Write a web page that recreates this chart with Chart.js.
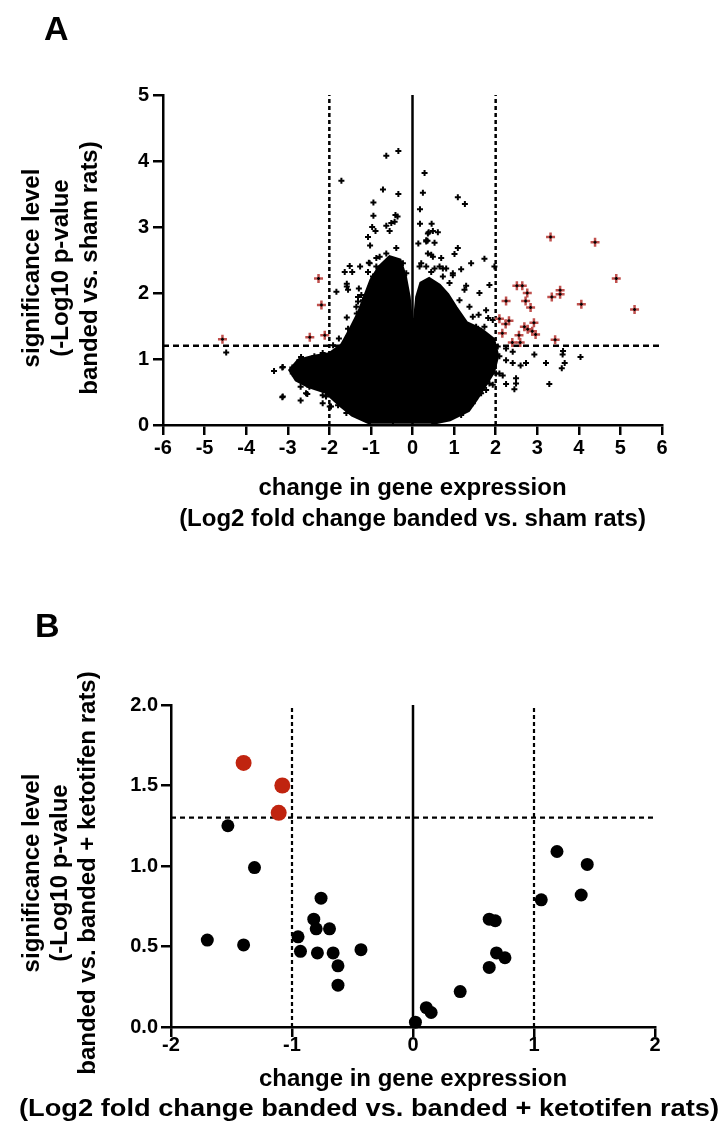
<!DOCTYPE html>
<html>
<head>
<meta charset="utf-8">
<script src="https://cdn.jsdelivr.net/npm/chart.js@4.4.1/dist/chart.umd.min.js"></script>
<style>
  body { margin: 0; background: #fff; }
  #wrap { position: relative; width: 723px; height: 1128px; }
  canvas { position: absolute; left: 0; }
</style>
</head>
<body>
<div id="wrap">
  <canvas id="panelA" width="723" height="560" style="top:0"></canvas>
  <canvas id="panelB" width="723" height="568" style="top:560px"></canvas>
</div>
<script>
// ---- panel A: banded vs. sham ----
const foldTicksA = [-6, -5, -4, -3, -2, -1, 0, 1, 2, 3, 4, 5, 6];
const sigTicksA = [0, 1, 2, 3, 4, 5];
const foldCutA = 2;
const sigCutA = 1.2;

// outline of the saturated centre of the cloud (too many genes to tell apart)
const coreFoldA = [-1.00, -1.45, -1.75, -2.10, -2.50, -2.80, -2.95, -2.75, -2.40, -2.00, -1.70, -1.50, -1.30, -1.15, -1.00,
  -0.80, -0.55, -0.30, -0.17, -0.08, -0.03, 0.05, 0.10, 0.20, 0.40, 0.65, 0.85, 1.05, 1.30, 1.65, 1.95, 2.05, 1.95, 1.75,
  1.55, 1.35, 0.90, 0.45];
const coreSigA = [0.02, 0.15, 0.30, 0.50, 0.58, 0.68, 0.83, 0.98, 1.04, 1.08, 1.22, 1.45, 1.70, 1.95, 2.20,
  2.40, 2.55, 2.50, 2.25, 1.94, 1.60, 1.60, 1.94, 2.15, 2.22, 2.12, 1.98, 1.78, 1.55, 1.45, 1.30, 1.05, 0.80, 0.60,
  0.40, 0.22, 0.08, 0.02];

// scattered genes above / beside the cloud
const nsFoldA = [-1.71, -0.63, -0.34, -0.71, -0.34, -0.94, -0.94, -0.36, -0.43, -0.63,
  -0.55, -0.97, -0.89, -1.07, -1.02, -0.87, -1.05, -1.26, -1.51, -1.63,
  -1.45, -1.58, -1.58, -1.83, -1.29, -1.31, -1.19, -1.35, -1.58, -1.55,
  -1.77, -1.91, -4.48, -3.33, -3.13, -3.13, -2.69, -2.53, -2.69, -2.89,
  -2.68, -0.51, -0.41, 0.29, 0.25, 1.09, 1.26, 0.18, 0.18, 0.46,
  0.49, 0.39, 0.61, 0.36, 0.53, 0.14, 1.09, 1.01, 1.73, 1.41,
  1.17, 1.29, 1.61, 1.85, 1.97, 1.37, 1.59, 1.82, 2.93, 2.41,
  2.60, 2.73, 3.21, 3.61, 3.66, 3.59, 4.04, 3.62, 3.29, 2.25,
  2.45, 2.49, 2.17];
const nsSigA = [3.70, 4.08, 4.15, 3.57, 3.50, 3.37, 3.17, 3.16, 3.08, 3.02,
  2.94, 3.00, 2.94, 2.85, 2.72, 2.53, 2.46, 2.40, 2.41, 2.32,
  2.32, 2.14, 2.10, 2.02, 2.07, 1.94, 1.89, 1.79, 1.63, 1.46,
  1.31, 1.21, 1.10, 0.82, 0.87, 0.42, 0.37, 0.47, 0.58, 0.87,
  1.03, 3.06, 3.18, 3.82, 3.52, 3.45, 3.35, 3.27, 3.05, 3.05,
  2.94, 2.92, 2.92, 2.79, 2.76, 2.75, 2.68, 2.59, 2.52, 2.45,
  2.36, 2.11, 2.00, 2.12, 2.40, 1.79, 1.67, 1.62, 1.07, 0.94,
  0.90, 0.94, 0.94, 1.07, 0.94, 0.86, 1.03, 1.12, 0.62, 0.62,
  0.54, 0.71, 0.75];

// genes along the edge of the cloud
const haloFoldA = [-1.07, -1.55, -1.23, -1.31, -1.10, -1.19, -1.34, -1.27, -1.47, -1.55,
  -1.75, -2.16, -2.32, -3.12, -2.56, -3.12, -2.16, -2.16, -1.96, -1.59,
  -1.63, -1.79, -1.55, -1.39, -1.19, -0.91, -0.79, -0.63, -0.39, -0.55,
  -0.87, -0.95, -0.75, -0.23, -0.15, -0.31, -1.03, -0.47, 0.33, 0.37,
  0.49, 0.21, 0.65, 0.81, 0.45, 0.97, 0.73, 0.89, 1.25, 1.13,
  1.05, 1.45, 1.77, 1.53, 1.73, 1.93, 1.37, 1.61, 2.05, 2.09,
  2.49, 2.01, 1.85, 1.61, 1.77, 1.45, 1.29, 1.01, 1.17, 0.81,
  1.41, 1.21, -2.72, -2.88, -2.64, -2.48, -2.08, -1.79, -1.99, -1.75,
  -2.32, -2.12, -2.36, -1.83, -1.96, -1.71, -1.43, -2.56, 0.37, 0.33,
  0.45, 0.69, 0.17, 0.33, 0.53, 0.73, 0.97, 2.25, 2.25, 2.09,
  1.93, 1.65, 2.41, 1.65, -0.47, -0.79, 0.49, 0.65];
const haloSigA = [2.32, 2.05, 1.97, 1.87, 1.89, 1.77, 1.69, 1.54, 1.44, 1.34,
  1.14, 1.09, 1.01, 0.88, 0.48, 0.43, 0.45, 0.33, 0.28, 0.18,
  0.38, 0.58, 0.48, 0.33, 0.15, 0.08, 2.55, 2.60, 2.68, 2.47,
  2.40, 2.25, 2.27, 2.45, 2.30, 2.30, 2.45, 2.40, 2.80, 2.60,
  2.55, 2.45, 2.40, 2.37, 2.32, 2.27, 2.25, 2.15, 2.05, 1.89,
  1.69, 1.64, 1.74, 1.49, 1.49, 1.59, 1.34, 1.24, 1.19, 1.04,
  0.63, 0.78, 0.63, 0.48, 0.53, 0.33, 0.28, 0.20, 0.15, 0.13,
  0.73, 0.78, 0.98, 0.78, 0.68, 0.58, 0.43, 0.30, 0.28, 0.48,
  0.83, 0.98, 1.04, 1.09, 0.78, 0.83, 1.09, 0.76, 2.90, 2.78,
  2.58, 2.53, 2.40, 2.40, 2.37, 2.37, 2.30, 1.16, 0.98, 0.78,
  0.61, 0.48, 1.11, 0.83, 0.05, 0.13, 0.08, 0.13];

// genes past both cut-offs (red)
const hitFoldA = [-4.57, -2.26, -2.19, -2.47, -2.11, 3.32, 4.39, 4.90, 5.34, 4.06, 3.35, 3.55, 3.55, 2.51, 2.64, 2.76,
  2.72, 2.84, 2.25, 2.09, 2.24, 2.32, 2.16, 2.69, 2.92, 2.77, 2.88, 2.96, 2.56, 2.40, 2.59, 3.43];
const hitSigA = [1.30, 2.22, 1.82, 1.33, 1.36, 2.85, 2.77, 2.22, 1.75, 1.83, 1.94, 2.04, 1.98, 2.11, 2.11, 2.00,
  1.88, 1.78, 1.88, 1.61, 1.53, 1.58, 1.39, 1.49, 1.55, 1.45, 1.42, 1.37, 1.36, 1.25, 1.25, 1.29];

// ---- panel B: banded vs. banded + ketotifen ----
const foldTicksB = [-2, -1, 0, 1, 2];
const sigTicksB = [0, 0.5, 1, 1.5, 2];
const foldCutB = 1;
const sigCutB = 1.3;

const nsFoldB = [-1.53, -1.31, -1.70, -1.40, -0.95, -0.93, -0.76, -0.82, -0.80, -0.69, -0.79, -0.66, -0.62, -0.62, -0.43,
  0.02, 0.11, 0.15, 0.39, 0.63, 0.68, 0.69, 0.76, 0.63, 1.06, 1.19, 1.44, 1.39];
const nsSigB = [1.25, 0.99, 0.54, 0.51, 0.56, 0.47, 0.80, 0.67, 0.61, 0.61, 0.46, 0.46, 0.38, 0.26, 0.48,
  0.03, 0.12, 0.09, 0.22, 0.67, 0.66, 0.46, 0.43, 0.37, 0.79, 1.09, 1.01, 0.82];
const hitFoldB = [-1.40, -1.08, -1.11];
const hitSigB = [1.64, 1.50, 1.33];

const FONT = '"Liberation Sans", Arial, sans-serif';
const RED = '#c0504d';
const pts = (xs, ys) => xs.map((x, i) => ({ x: x, y: ys[i] }));

// axis titles and panel letter
const axisText = {
  id: 'axisText',
  afterDraw(chart, args, o) {
    const { ctx, chartArea: { left, right, top, bottom } } = chart;
    ctx.save();
    ctx.fillStyle = '#000';
    ctx.font = 'bold 24px ' + FONT;
    ctx.textAlign = 'center';
    ctx.textBaseline = 'alphabetic';
    o.xTitle.forEach((line, i) => {
      const cx = o.xTitleCx && o.xTitleCx[i] ? o.xTitleCx[i] : (left + right) / 2;
      const w = o.xTitleW && o.xTitleW[i];
      ctx.save();
      ctx.translate(cx, bottom + o.xTitleY[i]);
      if (w) ctx.scale(w / ctx.measureText(line).width, 1);
      ctx.fillText(line, 0, 0);
      ctx.restore();
    });
    ctx.textBaseline = 'middle';
    o.yTitle.forEach((line, i) => {
      ctx.save();
      ctx.translate(o.yTitleX[i], o.yTitleMid);
      ctx.rotate(-Math.PI / 2);
      ctx.fillText(line, 0, 0);
      ctx.restore();
    });
    ctx.font = 'bold 34px ' + FONT;
    ctx.textAlign = 'left';
    ctx.textBaseline = 'alphabetic';
    ctx.fillText(o.letter, o.letterX, o.letterY);
    ctx.restore();
  }
};

function axis(min, max, ticks, fmt, fit, isX, pad) {
  return {
    type: 'linear',
    min: min,
    max: max,
    afterBuildTicks: s => { s.ticks = ticks.map(v => ({ value: v })); },
    afterFit: s => { if (isX) s.height = fit; else s.width = fit; },
    grid: { drawOnChartArea: false, drawTicks: true, tickLength: 10, color: '#000', lineWidth: 2.5 },
    border: { display: true, color: '#000', width: 2.5 },
    ticks: {
      color: '#000',
      font: { family: FONT, size: 20, weight: 'bold' },
      padding: pad,
      maxRotation: 0,
      autoSkip: false,
      callback: fmt
    }
  };
}

function refLine(x0, y0, x1, y1, dash, w) {
  return {
    type: 'line',
    data: [{ x: x0, y: y0 }, { x: x1, y: y1 }],
    showLine: true,
    borderColor: '#000',
    borderWidth: w,
    borderDash: dash,
    pointRadius: 0,
    fill: false,
    order: 10
  };
}

const blackCross = { pointStyle: 'cross', pointRadius: 3, borderColor: '#000', borderWidth: 2, order: 2 };

// render panel A
new Chart(document.getElementById('panelA'), {
  type: 'scatter',
  data: {
    datasets: [
      { data: pts(hitFoldA, hitSigA), pointStyle: 'cross', pointRadius: 1.5, borderColor: '#000', borderWidth: 1.5, order: 0, clip: false },
      { data: pts(hitFoldA, hitSigA), pointStyle: 'cross', pointRadius: 4.5, borderColor: RED, borderWidth: 2.5, order: 1, clip: false },
      Object.assign({ data: pts(nsFoldA, nsSigA) }, blackCross),
      Object.assign({ data: pts(haloFoldA, haloSigA) }, blackCross),
      { type: 'line', data: pts(coreFoldA, coreSigA), showLine: true, fill: 'shape', tension: 0,
        backgroundColor: '#000', borderColor: '#000', borderWidth: 3, pointRadius: 0, order: 3 },
      refLine(0, 0, 0, 5, [], 2.5),
      refLine(-foldCutA, 0, -foldCutA, 5, [4, 3], 2.5),
      refLine(foldCutA, 0, foldCutA, 5, [4, 3], 2.5),
      refLine(-6, sigCutA, 6, sigCutA, [6, 4], 2.5)
    ]
  },
  options: {
    responsive: false,
    animation: false,
    events: [],
    layout: { padding: { top: 95, right: 61, left: 0, bottom: 0 } },
    scales: {
      x: axis(-6, 6, foldTicksA, v => String(v), 135, true, 1),
      y: axis(0, 5, sigTicksA, v => String(v), 163, false, 4)
    },
    plugins: {
      legend: { display: false },
      tooltip: { enabled: false },
      axisText: {
        xTitle: ['change in gene expression', '(Log2 fold change banded vs. sham rats)'],
        xTitleY: [70, 101],
        yTitle: ['significance level', '(-Log10 p-value', 'banded vs. sham rats)'],
        yTitleX: [32, 61, 90],
        yTitleMid: 268,
        letter: 'A', letterX: 44, letterY: 40
      }
    }
  },
  plugins: [axisText]
});

// render panel B
new Chart(document.getElementById('panelB'), {
  type: 'scatter',
  data: {
    datasets: [
      { data: pts(hitFoldB, hitSigB), pointStyle: 'circle', pointRadius: 8, backgroundColor: '#c0240f', borderColor: '#c0240f', borderWidth: 0, order: 0, clip: false },
      { data: pts(nsFoldB, nsSigB), pointStyle: 'circle', pointRadius: 6.5, backgroundColor: '#000', borderColor: '#000', borderWidth: 0, order: 1, clip: false },
      refLine(0, 0, 0, 2, [], 2.5),
      refLine(-foldCutB, 0, -foldCutB, 2, [4, 3], 2.2),
      refLine(foldCutB, 0, foldCutB, 2, [4, 3], 2.2),
      refLine(-2, sigCutB, 2, sigCutB, [5, 4], 2.2)
    ]
  },
  options: {
    responsive: false,
    animation: false,
    events: [],
    layout: { padding: { top: 145, right: 68, left: 0, bottom: 0 } },
    scales: {
      x: axis(-2, 2, foldTicksB, v => String(v), 101, true, -4),
      y: axis(0, 2, sigTicksB, v => v.toFixed(1), 171, false, 3)
    },
    plugins: {
      legend: { display: false },
      tooltip: { enabled: false },
      axisText: {
        xTitle: ['change in gene expression', '(Log2 fold change banded vs. banded + ketotifen rats)'],
        xTitleY: [59, 89],
        xTitleCx: [0, 369],
        xTitleW: [0, 700],
        yTitle: ['significance level', '(-Log10 p-value', 'banded vs. banded + ketotifen rats)'],
        yTitleX: [32, 60, 88],
        yTitleMid: 313,
        letter: 'B', letterX: 35, letterY: 77
      }
    }
  },
  plugins: [axisText]
});
</script>
</body>
</html>
